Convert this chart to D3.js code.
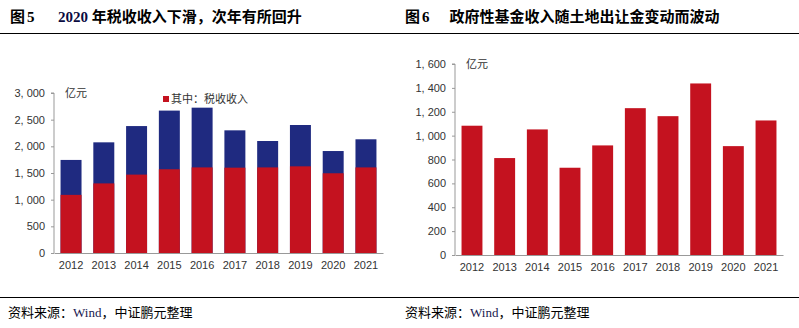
<!DOCTYPE html>
<html>
<head>
<meta charset="utf-8">
<script src="https://cdn.jsdelivr.net/npm/d3@7"></script>
<style>
  body { margin: 0; background: #fff; }
  svg { display: block; }
  .tick text { font-family: Arial, "Liberation Sans", sans-serif; font-size: 11px; fill: #333; }
</style>
</head>
<body>
<svg width="799" height="328"></svg>
<script>
const years = ["2012", "2013", "2014", "2015", "2016", "2017", "2018", "2019", "2020", "2021"];

// Fig 5: total income (blue) and of which tax income (red)
const totalIncome = [1745, 2075, 2380, 2670, 2725, 2300, 2100, 2400, 1912, 2132];
const taxIncome = [1090, 1305, 1470, 1570, 1605, 1600, 1605, 1625, 1495, 1605];
const leftTicks = [0, 500, 1000, 1500, 2000, 2500, 3000];

// Fig 6: government fund income
const fundIncome = [1083, 812, 1052, 731, 918, 1230, 1163, 1437, 912, 1127];
const rightTicks = [0, 200, 400, 600, 800, 1000, 1200, 1400, 1600];

const red = "#c4121f";
const blue = "#1f2a80";
const cjk = "'Noto Sans CJK SC', sans-serif";
const serif = "'Liberation Serif', 'Noto Serif CJK SC', 'Noto Sans CJK SC', serif";

const svg = d3.select("svg");
const fmt = d3.format(",");
const fmtLabel = d => fmt(d).replace(",", ", ");

// header & footer rules
svg.append("line").attr("x1", 0).attr("x2", 799).attr("y1", 33.5).attr("y2", 33.5)
    .attr("stroke", "#000").attr("stroke-width", 1.2);
svg.append("line").attr("x1", 0).attr("x2", 799).attr("y1", 297.5).attr("y2", 297.5)
    .attr("stroke", "#000").attr("stroke-width", 1.2);

function title(x, num, text) {
    const t = svg.append("text").attr("x", x).attr("y", 22)
        .attr("font-weight", "bold").attr("font-size", 15)
        .attr("font-family", cjk);
    t.append("tspan").text("图");
    t.append("tspan").attr("dx", 2).attr("font-family", serif).text(num);
    t.append("tspan").attr("dx", 20).text(text);
}
title(10, "5", "");
svg.append("text").attr("x", 58).attr("y", 22)
    .attr("font-weight", "bold").attr("font-size", 15).attr("font-family", cjk)
    .call(t => {
        t.append("tspan").attr("font-family", serif).attr("fill", "#0a0a40").text("2020 ");
        t.append("tspan").text("年税收收入下滑，次年有所回升");
    });
title(405, "6", "政府性基金收入随土地出让金变动而波动");

function source(x) {
    const t = svg.append("text").attr("x", x).attr("y", 317)
        .attr("font-size", 13).attr("font-family", cjk).attr("fill", "#000");
    t.append("tspan").text("资料来源：");
    t.append("tspan").attr("font-family", serif).attr("fill", "#1a1a50").text("Wind");
    t.append("tspan").text("，中证鹏元整理");
}
source(8);
source(405);

function axes(g, x, y, ticks, top) {
    g.append("g")
        .attr("transform", `translate(${x.range()[0]},0)`)
        .call(d3.axisLeft(y).tickValues(ticks).tickFormat(fmtLabel).tickSize(3).tickPadding(6))
        .call(a => a.selectAll("line, path").attr("stroke", "#999"))
        .call(a => a.select(".domain").attr("d", `M-3,${y.range()[1]}H0V${y.range()[0]}`));
    g.append("g")
        .attr("transform", `translate(0,${y.range()[0]})`)
        .call(d3.axisBottom(x).tickSize(0).tickPadding(8))
        .call(a => a.select(".domain").attr("stroke", "#999"));
    g.append("text").attr("x", x.range()[0] + 11).attr("y", top + 4)
        .attr("font-size", 11).attr("font-family", cjk).attr("fill", "#333").text("亿元");
}

// ---- Fig 5 ----
const g1 = svg.append("g");
const x1 = d3.scaleBand().domain(years).range([54, 383]).paddingInner(0.36).paddingOuter(0.2);
const y1 = d3.scaleLinear().domain([0, 3000]).range([253, 93]);

g1.selectAll(".total").data(years).join("rect")
    .attr("x", d => x1(d)).attr("width", x1.bandwidth())
    .attr("y", (d, i) => y1(totalIncome[i]))
    .attr("height", (d, i) => y1(0) - y1(totalIncome[i]))
    .attr("fill", blue);
g1.selectAll(".tax").data(years).join("rect")
    .attr("class", "tax")
    .attr("x", d => x1(d)).attr("width", x1.bandwidth())
    .attr("y", (d, i) => y1(taxIncome[i]))
    .attr("height", (d, i) => y1(0) - y1(taxIncome[i]))
    .attr("fill", red);
axes(g1, x1, y1, leftTicks, 93);

svg.append("rect").attr("x", 163).attr("y", 96).attr("width", 6).attr("height", 6).attr("fill", red);
svg.append("text").attr("x", 171).attr("y", 103).attr("font-size", 11)
    .attr("font-family", cjk).attr("fill", "#333").text("其中：税收收入");

// ---- Fig 6 ----
const g2 = svg.append("g");
const x2 = d3.scaleBand().domain(years).range([455, 783]).paddingInner(0.36).paddingOuter(0.2);
const y2 = d3.scaleLinear().domain([0, 1600]).range([255, 64]);

g2.selectAll("rect").data(years).join("rect")
    .attr("x", d => x2(d)).attr("width", x2.bandwidth())
    .attr("y", (d, i) => y2(fundIncome[i]))
    .attr("height", (d, i) => y2(0) - y2(fundIncome[i]))
    .attr("fill", red);
axes(g2, x2, y2, rightTicks, 64);
</script>
</body>
</html>
